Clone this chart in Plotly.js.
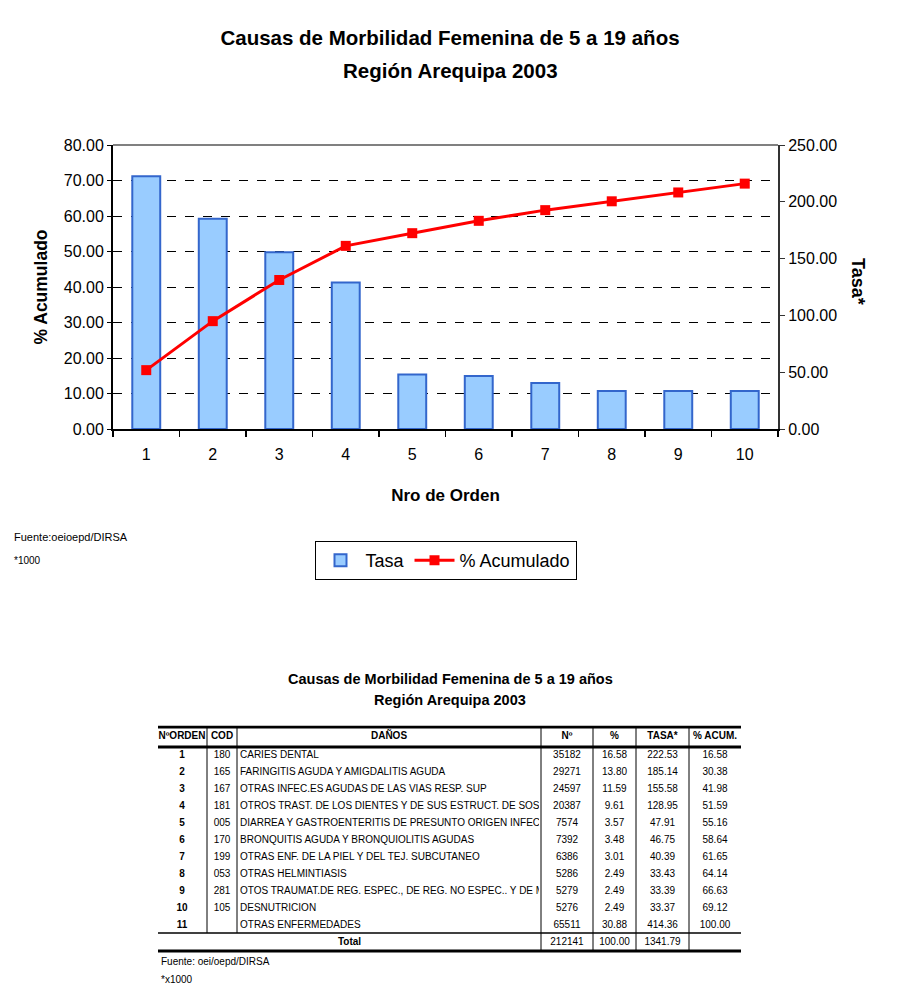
<!DOCTYPE html>
<html>
<head>
<meta charset="utf-8">
<script src="https://cdn.plot.ly/plotly-3.0.1.min.js"></script>
<style>html,body{margin:0;padding:0;background:#fff;}#chart{width:900px;height:1000px;}</style>
</head>
<body>
<div id="chart"></div>
<script>
// ---------- chart data ----------
var orden = ['1','2','3','4','5','6','7','8','9','10'];
var tasa = [222.53, 185.14, 155.58, 128.95, 47.91, 46.75, 40.39, 33.43, 33.39, 33.37];
var acum = [16.58, 30.38, 41.98, 51.59, 55.16, 58.64, 61.65, 64.14, 66.63, 69.12];

// ---------- table data ----------
var tblHeader = ['NºORDEN', 'COD', 'DAÑOS', 'Nº', '%', 'TASA*', '% ACUM.'];
var tblOrden = ['1','2','3','4','5','6','7','8','9','10','11'];
var tblCod = ['180','165','167','181','005','170','199','053','281','105',''];
var tblDanos = [
  'CARIES DENTAL',
  'FARINGITIS AGUDA Y AMIGDALITIS AGUDA',
  'OTRAS INFEC.ES AGUDAS DE LAS VIAS RESP. SUP',
  'OTROS TRAST. DE LOS DIENTES Y DE SUS ESTRUCT. DE SOS',
  'DIARREA Y GASTROENTERITIS DE PRESUNTO ORIGEN INFECC',
  'BRONQUITIS AGUDA Y BRONQUIOLITIS AGUDAS',
  'OTRAS ENF. DE LA PIEL Y DEL TEJ. SUBCUTANEO',
  'OTRAS HELMINTIASIS',
  'OTOS TRAUMAT.DE REG. ESPEC., DE REG. NO ESPEC.. Y DE M',
  'DESNUTRICION',
  'OTRAS ENFERMEDADES'
];
var tblN = ['35182','29271','24597','20387','7574','7392','6386','5286','5279','5276','65511'];
var tblPct = ['16.58','13.80','11.59','9.61','3.57','3.48','3.01','2.49','2.49','2.49','30.88'];
var tblTasa = ['222.53','185.14','155.58','128.95','47.91','46.75','40.39','33.43','33.39','33.37','414.36'];
var tblAcum = ['16.58','30.38','41.98','51.59','55.16','58.64','61.65','64.14','66.63','69.12','100.00'];
var totalLabel = 'Total';
var totalN = '212141', totalPct = '100.00', totalTasa = '1341.79';

// ---------- layout constants (table geometry, pixel-like units on hidden axis) ----------
var EDGE = {a:158, b:207, c:237, d:541, e:593, f:636, g:689, h:741};
var CENT = {orden:182, cod:222, danos:240, danosHead:389, n:567, pct:614.5, tasa:662.5, acum:715, total:349.5};
var ROW_TOP = -0.706, ROW_HEAD_BOTTOM = 0.47, ROW_LAST_BOTTOM = 11.41, ROW_TOTAL_BOTTOM = 12.47, ROW_HEAD = -0.12, ROW_TOTAL = 12;
var rows = tblOrden.map(function(v){ return Number(v); });

var FONT = 'Arial, "Liberation Sans", sans-serif';
var tf = {family: FONT, size: 10, color: '#000'};
var tfb = {family: FONT, size: 10, color: '#000', weight: 'bold'};

function textTrace(xs, ys, txt, font, pos, xa, ya) {
  return {type:'scatter', mode:'text', x:xs, y:ys, text:txt, textfont:font,
          textposition:pos, xaxis:xa || 'x3', yaxis:ya || 'y3',
          hoverinfo:'skip', showlegend:false, cliponaxis:true};
}
function rep(v, n){ var a=[]; for (var i=0;i<n;i++) a.push(v); return a; }

var traces = [
  {type:'bar', name:'Tasa', x:orden, y:tasa, xaxis:'x', yaxis:'y', width:0.42,
   marker:{color:'#99CCFF', line:{color:'#3366CC', width:2}}},
  {type:'scatter', name:'% Acumulado', x:orden, y:acum, xaxis:'x', yaxis:'y2', mode:'lines+markers',
   line:{color:'#FF0000', width:3}, marker:{symbol:'square', size:10, color:'#FF0000'}}
];

var nR = rows.length;
// header
traces.push(textTrace([CENT.orden, CENT.cod, CENT.danosHead, CENT.n, CENT.pct, CENT.tasa, CENT.acum],
  rep(ROW_HEAD, 7), tblHeader, tfb, 'middle center'));
// body columns
traces.push(textTrace(rep(CENT.orden, nR), rows, tblOrden, tfb, 'middle center'));
traces.push(textTrace(rep(CENT.cod, nR), rows, tblCod, tf, 'middle center'));
traces.push(textTrace(rep(CENT.danos, nR), rows, tblDanos, tf, 'middle right', 'x4', 'y4'));
traces.push(textTrace(rep(CENT.n, nR).concat([CENT.n]), rows.concat([ROW_TOTAL]), tblN.concat([totalN]), tf, 'middle center'));
traces.push(textTrace(rep(CENT.pct, nR).concat([CENT.pct]), rows.concat([ROW_TOTAL]), tblPct.concat([totalPct]), tf, 'middle center'));
traces.push(textTrace(rep(CENT.tasa, nR).concat([CENT.tasa]), rows.concat([ROW_TOTAL]), tblTasa.concat([totalTasa]), tf, 'middle center'));
traces.push(textTrace(rep(CENT.acum, nR), rows, tblAcum, tf, 'middle center'));
traces.push(textTrace([CENT.total], [ROW_TOTAL], [totalLabel], tfb, 'middle center'));

// table lines
var shapes = [
  {type:'line', xref:'x domain', yref:'y domain', x0:0, x1:1, y0:1, y1:1, line:{color:'#808080', width:2}, layer:'above'}
];
function hline(y, w){ shapes.push({type:'line', xref:'x3', yref:'y3', x0:EDGE.a, x1:EDGE.h, y0:y, y1:y, line:{color:'#000', width:w}}); }
function vline(x, y1){ shapes.push({type:'line', xref:'x3', yref:'y3', x0:x, x1:x, y0:ROW_TOP, y1:y1, line:{color:'#000', width:1}}); }
hline(ROW_TOP, 3); hline(ROW_HEAD_BOTTOM, 3); hline(ROW_LAST_BOTTOM, 1.5); hline(ROW_TOTAL_BOTTOM, 3);
vline(EDGE.b, ROW_LAST_BOTTOM); vline(EDGE.c, ROW_LAST_BOTTOM);
vline(EDGE.d, ROW_TOTAL_BOTTOM); vline(EDGE.e, ROW_TOTAL_BOTTOM); vline(EDGE.f, ROW_TOTAL_BOTTOM); vline(EDGE.g, ROW_TOTAL_BOTTOM);

var tblYDomain = [1 - 953.2/1000, 1 - 725.4/1000];
var tblYRange = [12.6, -0.8];

var layout = {
  width:900, height:1000, margin:{l:0, r:0, t:0, b:0, autoexpand:false},
  paper_bgcolor:'#fff', plot_bgcolor:'rgba(0,0,0,0)',
  font:{family:FONT, color:'#000'},
  title:{text:'<b>Causas de Morbilidad Femenina de 5 a 19 años</b>', x:0.5, xanchor:'center', y:1 - 38/1000, yanchor:'middle',
         font:{family:FONT, size:20.5, color:'#000'}},
  showlegend:true,
  legend:{orientation:'h', x:0.495, xanchor:'center', y:1 - 541/1000, yanchor:'top',
          bordercolor:'#000', borderwidth:1, bgcolor:'#fff', font:{family:FONT, size:18, color:'#000'},
          traceorder:'normal', itemwidth:40},
  xaxis:{domain:[113/900, 778/900], anchor:'y', type:'category', range:[-0.5, 9.5], autorange:false,
         tickson:'boundaries', ticks:'outside', ticklen:6,
         tickwidth:1.5, tickcolor:'#000', showline:true, linecolor:'#000', linewidth:2, showgrid:false, zeroline:false,
         tickfont:{family:FONT, size:16, color:'#000'}, ticklabelstandoff:10, automargin:false,
         title:{text:'<b>Nro de Orden</b>', font:{family:FONT, size:17, color:'#000'}, standoff:27}},
  yaxis:{domain:[1 - 429/1000, 1 - 145/1000], anchor:'x', side:'right', range:[0,250], dtick:50, tickformat:'.2f',
         showgrid:false, zeroline:false, showline:true, linecolor:'#333', linewidth:2, ticks:'outside', ticklen:5,
         tickcolor:'#333', tickfont:{family:FONT, size:16, color:'#000'}, automargin:false},
  yaxis2:{overlaying:'y', side:'left', anchor:'x', range:[0,80], dtick:10, tickformat:'.2f',
          showgrid:true, gridcolor:'#000', griddash:'dash', gridwidth:1, zeroline:false,
          showline:true, linecolor:'#000', linewidth:2, ticks:'outside', ticklen:4, tickcolor:'#000',
          tickfont:{family:FONT, size:16, color:'#000'}, automargin:false,
          title:{text:'<b>% Acumulado</b>', font:{family:FONT, size:17.5, color:'#000'}, standoff:12}},
  xaxis3:{domain:[0,1], range:[0,900], anchor:'y3', visible:false, fixedrange:true, automargin:false},
  yaxis3:{domain:tblYDomain, range:tblYRange, anchor:'x3', visible:false, fixedrange:true, automargin:false},
  xaxis4:{domain:[EDGE.c/900, (EDGE.d - 2)/900], range:[EDGE.c, EDGE.d - 2], anchor:'y4', visible:false, fixedrange:true, automargin:false},
  yaxis4:{domain:tblYDomain, range:tblYRange, anchor:'x4', visible:false, fixedrange:true, automargin:false},
  shapes:shapes,
  annotations:[
    {text:'<b>Región Arequipa 2003</b>', xref:'paper', yref:'paper', x:0.5, y:1 - 70/1000, xanchor:'center', yanchor:'middle',
     showarrow:false, font:{family:FONT, size:20.5, color:'#000'}},
    {text:'<b>Tasa*</b>', xref:'paper', yref:'paper', x:858/900, y:1 - 281/1000, xanchor:'center', yanchor:'middle',
     textangle:90, showarrow:false, font:{family:FONT, size:18, color:'#000'}},
    {text:'Fuente:oeioepd/DIRSA', xref:'paper', yref:'paper', x:12/900, y:1 - 537/1000, xanchor:'left', yanchor:'middle',
     showarrow:false, font:{family:FONT, size:11, color:'#000'}},
    {text:'*1000', xref:'paper', yref:'paper', x:12/900, y:1 - 560/1000, xanchor:'left', yanchor:'middle',
     showarrow:false, font:{family:FONT, size:10, color:'#000'}},
    {text:'<b>Causas de Morbilidad Femenina de 5 a 19 años</b>', xref:'paper', yref:'paper', x:0.5, y:1 - 679/1000,
     xanchor:'center', yanchor:'middle', showarrow:false, font:{family:FONT, size:14.5, color:'#000'}},
    {text:'<b>Región Arequipa 2003</b>', xref:'paper', yref:'paper', x:0.5, y:1 - 700/1000,
     xanchor:'center', yanchor:'middle', showarrow:false, font:{family:FONT, size:14.5, color:'#000'}},
    {text:'Fuente: oei/oepd/DIRSA', xref:'paper', yref:'paper', x:159/900, y:1 - 961/1000, xanchor:'left', yanchor:'middle',
     showarrow:false, font:{family:FONT, size:10, color:'#000'}},
    {text:'*x1000', xref:'paper', yref:'paper', x:159/900, y:1 - 979/1000, xanchor:'left', yanchor:'middle',
     showarrow:false, font:{family:FONT, size:10, color:'#000'}}
  ]
};

Plotly.newPlot('chart', traces, layout, {staticPlot:true, displayModeBar:false});
</script>
</body>
</html>
